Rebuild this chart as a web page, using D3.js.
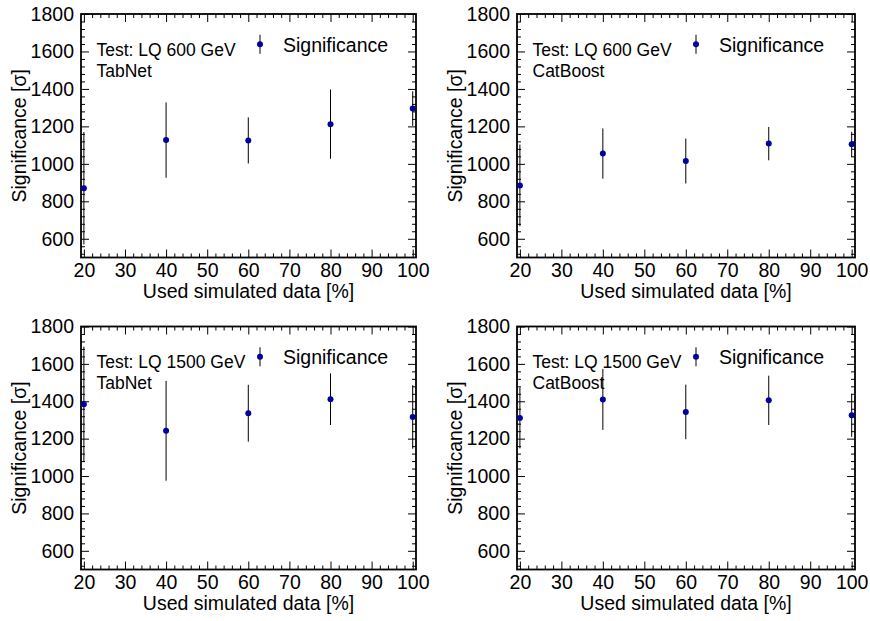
<!DOCTYPE html>
<html>
<head>
<meta charset="utf-8">
<script src="https://cdn.jsdelivr.net/npm/d3@7"></script>
<style>
  body { margin: 0; background: #fff; }
  text { font-family: "Liberation Sans", Arial, sans-serif; fill: #000; }
</style>
</head>
<body>
<div class="viz"></div>
<script>
// data
const usedData = [20, 40, 60, 80, 100]

const tabnet600 = [870, 1127, 1125, 1212, 1295]
const tabnet600Err = [300, 201, 123, 185, 92]
const catboost600 = [885, 1055, 1015, 1108, 1104]
const catboost600Err = [218, 134, 120, 89, 67]
const tabnet1500 = [1384, 1242, 1336, 1411, 1316]
const tabnet1500Err = [308, 267, 152, 138, 170]
const catboost1500 = [1311, 1410, 1343, 1405, 1325]
const catboost1500Err = [163, 163, 146, 132, 115]

const xTicks = [20, 30, 40, 50, 60, 70, 80, 90, 100]
const yTicks = [600, 800, 1000, 1200, 1400, 1600, 1800]

const panels = [
  { test: 'Test: LQ 600 GeV', model: 'TabNet', vals: tabnet600, errs: tabnet600Err },
  { test: 'Test: LQ 600 GeV', model: 'CatBoost', vals: catboost600, errs: catboost600Err },
  { test: 'Test: LQ 1500 GeV', model: 'TabNet', vals: tabnet1500, errs: tabnet1500Err },
  { test: 'Test: LQ 1500 GeV', model: 'CatBoost', vals: catboost1500, errs: catboost1500Err }
]

const width = 870
const height = 621
const colLeft = [81, 517]
const colRight = [416, 855]
const rowTop = [14, 326.5]
const rowBottom = [257.5, 569.5]
const markerColor = '#00009c'

const svg = d3.select('.viz')
  .append('svg')
  .attr('width', width)
  .attr('height', height)

svg.append('rect').attr('width', width).attr('height', height).attr('fill', '#fff')

// one axis call per group, so minor and major ticks don't replace each other
const addAxis = (g, axis, tr) => {
  const a = g.append('g').attr('transform', tr).call(axis)
  a.select('.domain').remove()
  a.selectAll('.tick line').attr('stroke', '#000').attr('stroke-width', 1)
  a.selectAll('.tick text')
    .style('font-family', '"Liberation Sans", Arial, sans-serif')
    .style('font-size', '19.5px')
    .attr('fill', '#000')
  return a
}

const drawPanel = (p, i) => {
  const col = i % 2
  const row = Math.floor(i / 2)
  const x0 = colLeft[col], x1 = colRight[col]
  const y0 = rowTop[row], y1 = rowBottom[row]

  const x = d3.scaleLinear().domain([19.3, 100.8]).range([x0, x1])
  const y = d3.scaleLinear().domain([500, 1800]).range([y1, y0])

  const g = svg.append('g')

  const xMinor = d3.range(20, 101, 2).filter(v => v % 10 !== 0)
  const yMinor = d3.range(520, 1800, 40).filter(v => v % 200 !== 0)

  addAxis(g, d3.axisBottom(x).tickValues(xMinor).tickSize(-4).tickFormat(''), `translate(0,${y1})`)
  addAxis(g, d3.axisBottom(x).tickValues(xTicks).tickSize(-8).tickPadding(6).tickFormat(d3.format('d')), `translate(0,${y1})`)
  addAxis(g, d3.axisTop(x).tickValues(xMinor).tickSize(-4).tickFormat(''), `translate(0,${y0})`)
  addAxis(g, d3.axisTop(x).tickValues(xTicks).tickSize(-8).tickFormat(''), `translate(0,${y0})`)
  addAxis(g, d3.axisLeft(y).tickValues(yMinor).tickSize(-4).tickFormat(''), `translate(${x0},0)`)
  addAxis(g, d3.axisLeft(y).tickValues(yTicks).tickSize(-8).tickPadding(7).tickFormat(d3.format('d')), `translate(${x0},0)`)
  addAxis(g, d3.axisRight(y).tickValues(yMinor).tickSize(-4).tickFormat(''), `translate(${x1},0)`)
  addAxis(g, d3.axisRight(y).tickValues(yTicks).tickSize(-8).tickFormat(''), `translate(${x1},0)`)

  // frame
  g.append('rect')
    .attr('x', x0).attr('y', y0)
    .attr('width', x1 - x0).attr('height', y1 - y0)
    .attr('fill', 'none')
    .attr('stroke', '#000')
    .attr('stroke-width', 1.8)

  // error bars + points
  const pts = usedData.map((u, k) => ({ u, v: p.vals[k], e: p.errs[k] }))
  g.selectAll('.err')
    .data(pts)
    .enter()
    .append('line')
    .attr('class', 'err')
    .attr('x1', d => x(d.u)).attr('x2', d => x(d.u))
    .attr('y1', d => y(d.v - d.e)).attr('y2', d => y(d.v + d.e))
    .attr('stroke', '#000')
    .attr('stroke-width', 1)

  g.selectAll('.pt')
    .data(pts)
    .enter()
    .append('circle')
    .attr('class', 'pt')
    .attr('cx', d => x(d.u)).attr('cy', d => y(d.v))
    .attr('r', 3)
    .attr('fill', markerColor)

  // axis titles
  g.append('text')
    .text('Used simulated data [%]')
    .attr('text-anchor', 'middle')
    .attr('x', (x0 + x1) / 2)
    .attr('y', y1 + 40.5)
    .style('font-size', '19.5px')

  g.append('text')
    .text('Significance [σ]')
    .attr('text-anchor', 'middle')
    .attr('transform', `translate(${x0 - 55},${(y0 + y1) / 2})rotate(-90)`)
    .style('font-size', '19.5px')

  // labels
  g.append('text')
    .text(p.test)
    .attr('x', x0 + 15.5)
    .attr('y', y0 + 41.5)
    .style('font-size', '17.5px')

  g.append('text')
    .text(p.model)
    .attr('x', x0 + 15.5)
    .attr('y', y0 + 62.5)
    .style('font-size', '17.5px')

  // legend
  const lx = x0 + 179
  const ly = y0 + 30.3
  g.append('line')
    .attr('x1', lx).attr('x2', lx)
    .attr('y1', ly - 9.5).attr('y2', ly + 9.5)
    .attr('stroke', '#000')
  g.append('circle')
    .attr('cx', lx).attr('cy', ly).attr('r', 3)
    .attr('fill', markerColor)
  g.append('text')
    .text('Significance')
    .attr('x', x0 + 202)
    .attr('y', y0 + 37.8)
    .style('font-size', '19.5px')
}

panels.forEach(drawPanel)
</script>
</body>
</html>
